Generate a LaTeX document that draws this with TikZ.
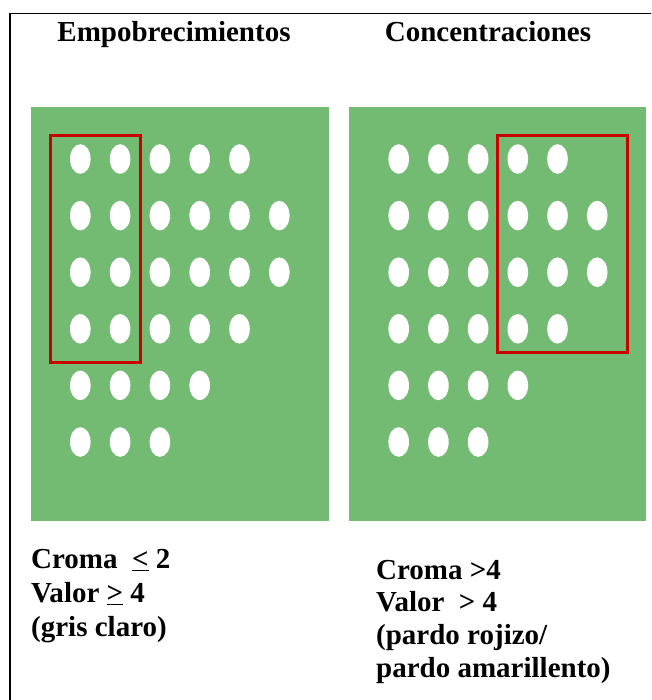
\documentclass[tikz,border=0pt]{standalone}
\usepackage{fontspec}
\setmainfont{Liberation Serif}
\definecolor{soil}{RGB}{115,186,115}
\definecolor{boxred}{RGB}{200,0,0}
\begin{document}
\begin{tikzpicture}[x=1pt,y=-1pt,
  lbl/.style={font=\bfseries\fontsize{29}{33}\selectfont, inner sep=0pt},
  panel/.style={fill=soil},
  hole/.style={fill=white},
  selbox/.style={draw=boxred, line width=3pt}]
\useasboundingbox (0,0) rectangle (651,700);
\begin{scope}
  \clip (0,0) rectangle (651,700);
  \draw[line width=1.5pt] (10,13.3) rectangle (670,720);
\end{scope}
% panels
\fill[panel] (31,107) rectangle (329,521);
\fill[panel] (349,107) rectangle (646,521);
% holes
\foreach \n [count=\r] in {5,6,6,5,4,3} {
  \foreach \c in {1,...,\n} {
    \fill[hole] ({80.3+(\c-1)*39.8},{159+(\r-1)*56.6}) ellipse [x radius=10.3, y radius=14.8];
    \fill[hole] ({398.7+(\c-1)*39.7},{159+(\r-1)*56.6}) ellipse [x radius=10.3, y radius=14.8];
  }
}
% red boxes
\draw[selbox] (50.7,135.5) rectangle (140.7,362);
\draw[selbox] (497.8,135.5) rectangle (627.2,352.8);
% titles
\node[lbl, anchor=base] (t1) at (174,42) {Empobrecimientos};
\node[lbl, anchor=base] (t2) at (488,42) {Concentraciones};
% left text
\node[lbl, anchor=base west] (l1) at (31,568.3) {Croma\ \ \underline{<} 2};
\node[lbl, anchor=base west] (l2) at (31,602.5) {Valor \underline{>} 4};
\node[lbl, anchor=base west] (l3) at (31,636.7) {(gris claro)};
% right text
\node[lbl, anchor=base west] (r1) at (376,579) {Croma >4};
\node[lbl, anchor=base west] (r2) at (376,611.7) {Valor\ \ > 4};
\node[lbl, anchor=base west] (r3) at (376,644.5) {(pardo rojizo/};
\node[lbl, anchor=base west] (r4) at (376,677) {pardo amarillento)};
\end{tikzpicture}
\end{document}
